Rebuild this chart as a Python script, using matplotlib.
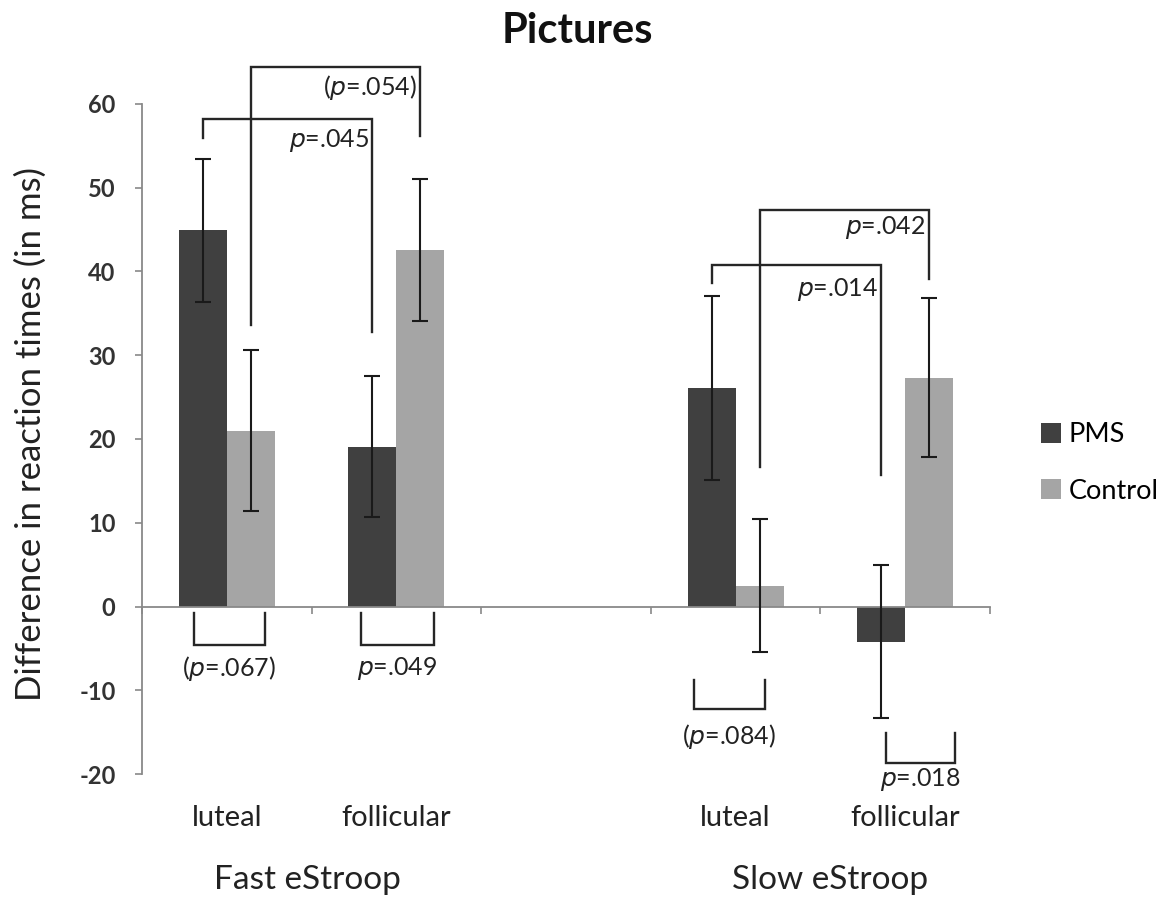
import matplotlib
matplotlib.use("Agg")
import matplotlib.pyplot as plt
import numpy as np

plt.rcParams['font.family'] = ['Lato', 'DejaVu Sans']
plt.rcParams['axes.unicode_minus'] = False

# ---- data ----
conditions = ["luteal", "follicular", "", "luteal", "follicular"]
groups = ["Fast eStroop", "Slow eStroop"]
series = ["PMS", "Control"]
pms_vals = [44.9, 19.1, np.nan, 26.1, -4.2]
pms_err = [8.5, 8.4, np.nan, 11.0, 9.1]
ctrl_vals = [21.0, 42.6, np.nan, 2.5, 27.3]
ctrl_err = [9.6, 8.5, np.nan, 7.9, 9.5]
yticks = [-20, -10, 0, 10, 20, 30, 40, 50, 60]

# significance brackets above bars (series index, from cat, to cat, top y, left-leg bottom, right-leg bottom, label, label y)
top_brackets = [
    (0, 0, 1, 58.2, 55.9, 32.8, "$\\it{p}$=.045", 55.7),
    (1, 0, 1, 64.4, 33.6, 56.2, "($\\it{p}$=.054)", 62.0),
    (0, 3, 4, 40.8, 38.6, 15.7, "$\\it{p}$=.014", 37.8),
    (1, 3, 4, 47.4, 16.6, 39.1, "$\\it{p}$=.042", 45.2),
]
# brackets below bars (x left, x right, top y, bottom y, label, label y)
bottom_brackets = [
    (-0.193, 0.225, -0.8, -4.6, "($\\it{p}$=.067)", -7.4),
    (0.790, 1.222, -0.8, -4.6, "$\\it{p}$=.049", -7.4),
    (2.755, 3.173, -8.8, -12.2, "($\\it{p}$=.084)", -15.5),
    (3.885, 4.294, -15.1, -18.7, "$\\it{p}$=.018", -20.7),
]

W, H = 1166, 897
fig = plt.figure(figsize=(W / 100, H / 100), dpi=100)
ax = fig.add_axes([142 / W, 1 - 774 / H, (990 - 142) / W, (774 - 104) / H])

x = np.arange(len(conditions))
bw = 0.283
pms_col = "#404040"
ctrl_col = "#a5a5a5"
axis_col = "#898989"
txt_col = "#222222"
ekw = dict(ecolor="#1a1a1a", elinewidth=1.5, capsize=5.5, capthick=1.5)

ax.bar(x - bw / 2, pms_vals, bw, color=pms_col, label=series[0], zorder=2)
ax.bar(x + bw / 2, ctrl_vals, bw, color=ctrl_col, label=series[1], zorder=2)
ax.errorbar(x - bw / 2, pms_vals, yerr=pms_err, fmt="none", zorder=3, **ekw)
ax.errorbar(x + bw / 2, ctrl_vals, yerr=ctrl_err, fmt="none", zorder=3, **ekw)

ax.set_xlim(-0.5, len(conditions) - 0.5)
ax.set_ylim(-20, 60)
ax.set_yticks(yticks)
ax.tick_params(axis="y", direction="out", length=5, width=1.2, color=axis_col,
               labelsize=17, pad=14, labelcolor="#333333")
for t in ax.get_yticklabels():
    t.set_fontweight("bold")

ax.set_xticks(np.arange(len(conditions) + 1) - 0.5)
ax.set_xticklabels([])
ax.tick_params(axis="x", direction="out", length=5, width=1.2, color=axis_col)

for s in ["top", "right"]:
    ax.spines[s].set_visible(False)
ax.spines["bottom"].set_position(("data", 0))
ax.spines["bottom"].set_color(axis_col)
ax.spines["bottom"].set_linewidth(1.3)
ax.spines["left"].set_color(axis_col)
ax.spines["left"].set_linewidth(1.3)

# category labels
for xi, c in zip(x, conditions):
    if c:
        ax.text(xi, -25.2, c, ha="center", va="center", fontsize=21,
                color=txt_col, clip_on=False)

offs = [-bw / 2, bw / 2]
blk = "#262626"
for si, c0, c1, ytop, yl, yr, lab, ly in top_brackets:
    x0 = c0 + offs[si]
    x1 = c1 + offs[si]
    ax.plot([x0, x0, x1, x1], [yl, ytop, ytop, yr], color=blk, lw=1.7,
            zorder=4, clip_on=False, solid_joinstyle="miter")
    ax.text(x1 - 0.02, ly, lab, ha="right", va="center", fontsize=18,
            color=txt_col, zorder=5, clip_on=False)

for xl, xr, yt, yb, lab, ly in bottom_brackets:
    ax.plot([xl, xl, xr, xr], [yt, yb, yb, yt], color=blk, lw=1.7,
            zorder=4, clip_on=False, solid_joinstyle="miter")
    ax.text((xl + xr) / 2, ly, lab, ha="center", va="center", fontsize=18,
            color=txt_col, clip_on=False)

# group labels
fig.text(307.5 / W, 1 - 880 / H, groups[0], ha="center", va="center",
         fontsize=24, color=txt_col)
fig.text(830 / W, 1 - 880 / H, groups[1], ha="center", va="center",
         fontsize=24, color=txt_col)

# title
fig.text(577 / W, 1 - 31 / H, "Pictures", ha="center", va="center",
         fontsize=30, fontweight="bold", color="#111111")

# y label
fig.text(31 / W, 1 - 434 / H, "Difference in reaction times (in ms)",
         rotation=90, ha="center", va="center", fontsize=25, color=txt_col)

# legend
leg = ax.legend(loc="center left", bbox_to_anchor=(1041 / W, 1 - 463 / H),
                bbox_transform=fig.transFigure, frameon=False, fontsize=19.5,
                handlelength=0.72, handleheight=0.72, handletextpad=0.3,
                labelspacing=1.15, borderpad=0, borderaxespad=0)

fig.savefig("out.png", dpi=100)
